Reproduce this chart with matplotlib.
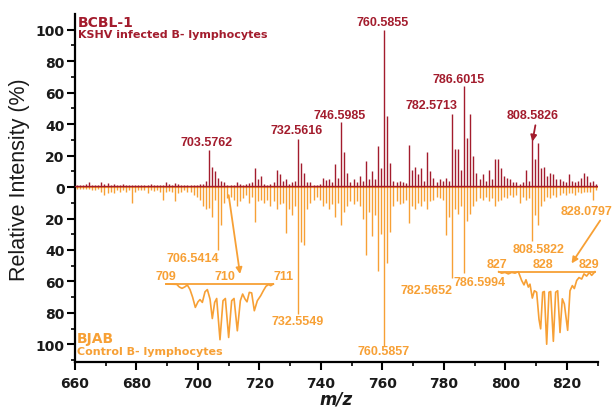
import numpy as np
import matplotlib
matplotlib.use('Agg')
import matplotlib.pyplot as plt
from matplotlib.ticker import MultipleLocator, FuncFormatter, FixedLocator

RED = '#a31c2d'
ORANGE = '#f7a035'

# nominal m/z of each stick (integer mass + mass defect)
mz = [m + 0.58 for m in range(660, 830)]

# BCBL-1 (upper) relative intensities, m/z 660 ... 829
bcbl = [1, 1, 1, 2, 3, 1.5, 1, 1, 3, 2,
        2.5, 1.5, 2, 1, 1.5, 2, 1, 1.5, 1, 1,
        1.5, 1, 1, 1.5, 2, 1, 1, 1, 1, 3,
        2, 1.5, 2.5, 2, 1, 1, 1, 1, 1.5, 1.5,
        2, 2, 4, 23.5, 13, 10, 6, 4, 3, 1.5,
        1, 1, 3, 2, 1.5, 2, 2.5, 3, 12, 5,
        7, 2, 1.5, 2, 3, 11, 8, 4, 5, 2,
        3, 4, 30.5, 15, 9, 3, 3, 1, 1.5, 2,
        6, 4.5, 5, 3, 14.5, 6, 41.5, 22, 9, 3,
        5, 3, 7, 4, 16.5, 5, 10, 5, 26, 12,
        100, 45, 15, 4, 3, 4, 3, 2.5, 27, 11,
        13, 8, 12, 4, 22, 10, 6, 3, 5, 4,
        6, 4, 46.5, 24, 24.5, 11, 64, 31.5, 46.5, 19.5,
        9, 5, 8, 4, 11, 5, 18, 18, 12, 7,
        6, 5, 3, 3, 2, 3, 11, 4, 32.5, 18,
        28, 12, 13, 7, 9, 8, 5, 5, 4, 3,
        8, 4, 3, 4, 6, 9, 7, 3, 4, 2]

# BJAB (lower, mirrored) relative intensities, m/z 660 ... 829
bjab = [1, 1.5, 1, 1.5, 1, 2, 2, 1.5, 3, 5,
        4, 3, 3.5, 2, 3, 2, 3, 2, 10, 3,
        2, 2, 2, 4, 2, 2.5, 2, 3, 8, 3,
        2.5, 3, 9, 4, 3, 2, 3, 3, 5, 6,
        8, 12, 14, 13, 19, 8, 40, 24, 10, 7,
        6, 8, 12, 9, 7, 5, 10, 6, 22, 9,
        8, 10, 8, 12, 9, 14, 11, 10, 29, 14,
        18, 12, 80.5, 35, 37, 14, 10, 8, 6, 8,
        12, 10, 14, 11, 19, 10, 24, 16, 12, 9,
        11, 9, 12, 20, 43, 16, 31, 18, 53.5, 30,
        101, 48.5, 28.5, 12, 9, 11, 10, 8, 23, 12,
        14, 10, 12, 9, 14, 9, 8, 6, 7, 8,
        30.5, 19, 58, 14, 17, 12, 54.5, 21.5, 17, 12,
        9, 7, 8, 6, 9, 7, 12, 9, 8, 6,
        7, 5, 6, 5, 10, 6, 8, 7, 34.5, 17.5,
        24, 12, 9, 6, 7, 5, 6, 5, 4, 5,
        4, 4, 5, 3, 4, 3, 3, 3, 8.5, 2]

# peak labels
top_labels = ['703.5762', '732.5616', '746.5985', '760.5855',
              '782.5713', '786.6015', '808.5826']
top_label_pos = [(702.9, 28.5), (732.2, 36), (746.2, 45.8), (760.2, 104.6),
                 (776.0, 51.9), (784.9, 68.4), (808.9, 45.6)]
bot_labels = ['706.5414', '732.5549', '760.5857', '782.5652',
              '786.5994', '808.5822', '828.0797']
bot_label_pos = [(698.4, -45), (732.3, -85.4), (760.2, -104.4), (774.4, -65.6),
                 (791.7, -60.3), (810.7, -39.2), (826.4, -15.4)]

# inset 1 (isotope pattern around m/z 710)
ins1_x = [709.000, 709.181, 709.226, 709.271, 709.316, 709.362, 709.407, 709.452,
          709.497, 709.542, 709.576, 709.616, 709.661, 709.701, 709.746, 709.785,
          709.825, 709.859, 709.915, 709.966, 710.006, 710.062, 710.113, 710.153,
          710.209, 710.260, 710.299, 710.339, 710.373, 710.412, 710.452, 710.497,
          710.548, 710.605, 710.650, 710.695, 710.740, 710.774, 710.820]
ins1_y = [0, -0.6, -5.4, -7.8, -5.4, -1.8, -10, -24,
          -42, -32, -28, -33, -14, -10, -27, -62,
          -33, -26, -100, -30, -26, -96, -30, -26,
          -84, -30, -18, -27, -32, -15, -16, -48,
          -30, -21, -12, -4, -1, -3, 0]
ins1_ticks = [709, 710, 711]

# inset 2 (isotope pattern around m/z 828)
ins2_x = [827.036, 827.101, 827.174, 827.246, 827.319, 827.391, 827.464, 827.536,
          827.587, 827.630, 827.681, 827.717, 827.768, 827.812, 827.862, 827.913,
          827.949, 827.993, 828.029, 828.080, 828.130, 828.167, 828.225, 828.275,
          828.319, 828.370, 828.420, 828.464, 828.536, 828.587, 828.638, 828.681,
          828.732, 828.783, 828.841, 828.891, 828.949, 829.007, 829.058, 829.130]
ins2_y = [0, -2, -1, -3, -1, -2, 0, -12,
          -18, -11, -21, -17, -36, -26, -28, -65,
          -78, -28, -27, -99, -28, -27, -95, -28,
          -26, -83, -37, -44, -80, -26, -19, -23,
          -12, -8, -10, -3, -6, -1, -5, 0]
ins2_ticks = [827, 828, 829]

W, H = 615, 410
fig = plt.figure(figsize=(W / 100, H / 100), dpi=100)

def fx(px):
    return px / W

def fy(py):
    return 1 - py / H

ax = fig.add_axes([fx(75), fy(362.7), (597.7 - 75) / W, (362.7 - 15) / H])
ax.set_xlim(660, 830)
ax.set_ylim(-111, 110)

mz_a = np.array(mz)
ax.axhline(0, color=ORANGE, lw=1.6, zorder=1)
ax.vlines(mz_a, 0, -np.array(bjab), color=ORANGE, lw=1.0, zorder=2)
ax.vlines(mz_a, 0, np.array(bcbl), color=RED, lw=1.0, zorder=3)
ax.plot([660, 830], [0.6, 0.6], color=RED, lw=0.9, zorder=3)

for sp in ['top', 'right']:
    ax.spines[sp].set_visible(False)
for sp in ['left', 'bottom']:
    ax.spines[sp].set_linewidth(1.6)

ax.xaxis.set_major_locator(MultipleLocator(20))
ax.xaxis.set_minor_locator(MultipleLocator(10))
ax.yaxis.set_major_locator(FixedLocator([-100, -80, -60, -40, -20, 0, 20, 40, 60, 80, 100]))
ax.yaxis.set_minor_locator(FixedLocator([-110, -90, -70, -50, -30, -10, 10, 30, 50, 70, 90]))
ax.yaxis.set_major_formatter(FuncFormatter(lambda v, p: f'{abs(v):.0f}'))
ax.tick_params(which='major', length=6, width=1.5, direction='out')
ax.tick_params(which='minor', length=3, width=1.2, direction='out')
ax.tick_params(axis='y', which='major', pad=1.5)
ax.tick_params(axis='x', which='major', pad=4)
for lab in ax.get_xticklabels() + ax.get_yticklabels():
    lab.set_fontfamily('DejaVu Sans')
    lab.set_fontweight('bold')
    lab.set_fontsize(10)
    lab.set_color('#1a1a1a')

fig.text(fx(19.5), fy(180), 'Relative Intensity (%)', rotation=90, ha='center', va='center',
         fontsize=15.5, family='Liberation Sans', color='#1a1a1a')
fig.text(fx(336), fy(400), 'm/z', ha='center', va='center', fontsize=12,
         family='DejaVu Sans', style='italic', weight='bold', color='#1a1a1a')

lab_kw = dict(ha='center', va='center', fontsize=9, family='Liberation Sans',
              weight='bold', clip_on=False)
for t, (x, y) in zip(top_labels, top_label_pos):
    ax.text(x, y, t, color=RED, **lab_kw)
for t, (x, y) in zip(bot_labels, bot_label_pos):
    ax.text(x, y, t, color=ORANGE, **lab_kw)

# sample names
ax.text(661, 105, 'BCBL-1', color=RED, ha='left', va='center', fontsize=10,
        family='DejaVu Sans', weight='bold')
ax.text(661, 97.2, 'KSHV infected B- lymphocytes', color=RED, ha='left', va='center',
        fontsize=8, family='DejaVu Sans', weight='bold')
ax.text(660.7, -95.8, 'BJAB', color=ORANGE, ha='left', va='center', fontsize=10,
        family='DejaVu Sans', weight='bold')
ax.text(660.7, -104.2, 'Control B- lymphocytes', color=ORANGE, ha='left', va='center',
        fontsize=8, family='DejaVu Sans', weight='bold')

# arrows
ax.annotate('', xy=(808.6, 27.2), xytext=(809.9, 41),
            arrowprops=dict(arrowstyle='-|>', color=RED, lw=1.3, mutation_scale=9),
            annotation_clip=False)
ax.annotate('', xy=(713.8, -57), xytext=(709.85, -3.4),
            arrowprops=dict(arrowstyle='-|>', color=ORANGE, lw=1.3, mutation_scale=9),
            annotation_clip=False)
ax.annotate('', xy=(821.0, -50), xytext=(831.3, -19.8),
            arrowprops=dict(arrowstyle='-|>', color=ORANGE, lw=1.3, mutation_scale=9),
            annotation_clip=False)

# inset 1
ia = fig.add_axes([fx(166), fy(345), 118 / W, 60 / H])
ia.set_xlim(709, 711)
ia.set_ylim(-107.7, 0)
ia.axis('off')
ia.plot([ins1_x[0], ins1_x[-1]], [0, 0], color=ORANGE, lw=1.3, clip_on=False)
ia.plot(ins1_x, ins1_y, color=ORANGE, lw=1.2, clip_on=False)
for t in ins1_ticks:
    ia.text(t, 4, str(t), ha='center', va='bottom', fontsize=9, family='Liberation Sans',
            weight='bold', color=ORANGE, clip_on=False)

# inset 2
ib = fig.add_axes([fx(497), fy(350), 101.2 / W, 77.3 / H])
ib.set_xlim(827, 829.2)
ib.set_ylim(-105.5, 0)
ib.axis('off')
ib.plot([ins2_x[0], ins2_x[-1]], [0, 0], color=ORANGE, lw=1.3, clip_on=False)
ib.plot(ins2_x, ins2_y, color=ORANGE, lw=1.2, clip_on=False)
for t in ins2_ticks:
    ib.text(t, 3, str(t), ha='center', va='bottom', fontsize=9, family='Liberation Sans',
            weight='bold', color=ORANGE, clip_on=False)

fig.savefig('out.png', dpi=100)
